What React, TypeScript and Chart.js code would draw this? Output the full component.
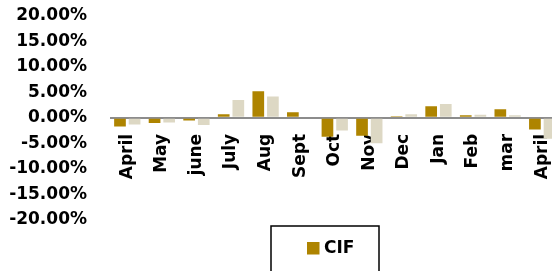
import React, { useEffect, useRef } from "react";
import { Chart, registerables } from "chart.js";

Chart.register(...registerables);

const categories = ["April", "May", "june", "July", "Aug", "Sept", "Oct", "Nov", "Dec", "Jan", "Feb", "mar", "April"];
const cifValues = [-1.7, -1.0, -0.5, 0.7, 5.2, 1.1, -3.7, -3.5, 0.3, 2.3, 0.5, 1.7, -2.3];
const secondValues = [-1.3, -0.9, -1.4, 3.5, 4.2, 0, -2.5, -5.0, 0.7, 2.7, 0.6, 0.5, -4.1];
const yTicks = [-20, -15, -10, -5, 0, 5, 10, 15, 20];

const GOLD = "#AE8400";
const BEIGE = "#DDD8C4";
const FONT = { family: "'DejaVu Sans', sans-serif", size: 17, weight: "bold" as const };

const boxLegend = {
  id: "boxLegend",
  afterDraw(chart: any) {
    const ctx = chart.ctx;
    const ds = chart.data.datasets[0];
    ctx.save();
    ctx.strokeStyle = "#000";
    ctx.lineWidth = 1.5;
    ctx.strokeRect(271, 226, 108, 80);
    ctx.fillStyle = ds.backgroundColor;
    ctx.fillRect(307, 242, 12.5, 12.5);
    ctx.fillStyle = "#000";
    ctx.font = "bold 17px 'DejaVu Sans', sans-serif";
    ctx.textBaseline = "middle";
    ctx.textAlign = "left";
    ctx.fillText(ds.label, 324, 248.5);
    ctx.restore();
  },
};

export default function App() {
  const ref = useRef<HTMLCanvasElement | null>(null);
  useEffect(() => {
    if (!ref.current) return;
    const chart = new Chart(ref.current, {
      type: "bar",
      data: {
        labels: categories,
        datasets: [
          { label: "CIF", data: cifValues, backgroundColor: GOLD, categoryPercentage: 0.845, barPercentage: 0.8 },
          { label: "Series 2", data: secondValues, backgroundColor: BEIGE, categoryPercentage: 0.845, barPercentage: 0.8 },
        ],
      },
      options: {
        responsive: false,
        animation: false,
        layout: { padding: { left: 0, right: 2.5, top: 16, bottom: 80.3 } },
        plugins: { legend: { display: false }, tooltip: { enabled: false } },
        scales: {
          x: {
            position: { y: 0 } as any,
            grid: { display: false, drawTicks: false },
            border: { display: false },
            ticks: { minRotation: 90, maxRotation: 90, autoSkip: false, padding: 16, color: "#000", font: FONT },
            afterFit: (s: any) => { s.paddingLeft = 0; s.paddingRight = 0; },
          },
          y: {
            min: -20,
            max: 20,
            afterBuildTicks: (s: any) => { s.ticks = yTicks.map((v) => ({ value: v })); },
            afterFit: (s: any) => { s.width = 110; s.paddingTop = 0; s.paddingBottom = 0; },
            grid: {
              drawTicks: false,
              lineWidth: 2,
              color: (c: any) => (c.tick && c.tick.value === 0 ? "#8C8C8C" : "rgba(0,0,0,0)"),
            },
            border: { display: false },
            ticks: {
              padding: 23,
              color: "#000",
              font: FONT,
              callback: (v: any) => Number(v).toFixed(2) + "%",
            },
          },
        },
      },
      plugins: [boxLegend],
    });
    return () => chart.destroy();
  }, []);
  return (
    <div style={{ position: "fixed", left: 0, top: 0, width: 552, height: 271, overflow: "hidden", background: "#fff" }}>
      <canvas ref={ref} width={562} height={300} style={{ display: "block" }} />
    </div>
  );
}
